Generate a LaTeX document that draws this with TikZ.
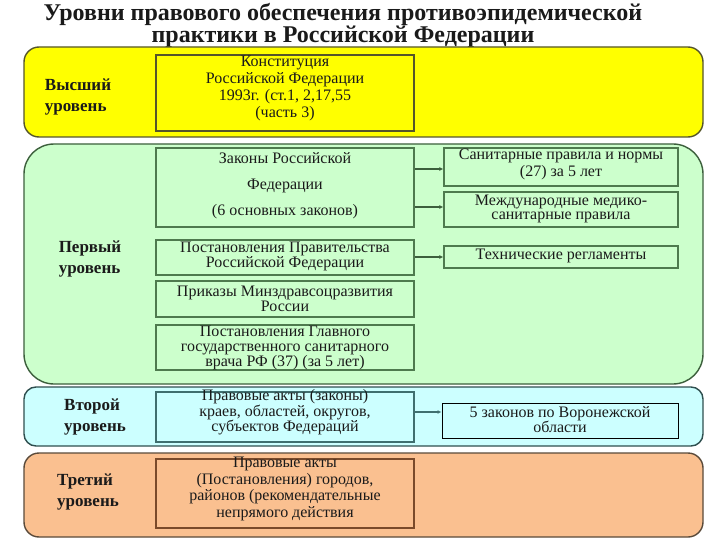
\documentclass[tikz,border=0pt]{standalone}
\usepackage{fontspec}
\setmainfont{Liberation Serif}
\usetikzlibrary{arrows.meta}
\definecolor{yel}{HTML}{FFFF00}
\definecolor{yelb}{HTML}{55552A}
\definecolor{grn}{HTML}{CCFFCC}
\definecolor{grnb}{HTML}{3C5F3C}
\definecolor{boxg}{HTML}{4E7A4E}
\definecolor{cyn}{HTML}{CCFFFF}
\definecolor{cynb}{HTML}{2F4F4F}
\definecolor{boxc}{HTML}{3F6F6F}
\definecolor{org}{HTML}{FAC090}
\definecolor{orgb}{HTML}{5A4A3A}
\definecolor{boxo}{HTML}{7A4A2A}
\definecolor{ink}{HTML}{1A1A1A}
\tikzset{
  band/.style={draw, line width=1.4pt, minimum width=679pt, inner sep=0pt},
  box/.style={draw, line width=1.3pt, inner sep=0pt},
  txt/.style={align=center, text=ink, font=\fontsize{16}{15}\selectfont, inner sep=0pt},
  lvl/.style={align=left, text=ink, font=\bfseries\fontsize{17}{21}\selectfont, inner sep=0pt},
  arr/.style={line width=1.5pt, -{Latex[length=4pt,width=4pt]}},
}
\begin{document}
\begin{tikzpicture}[x=1pt,y=-1pt]
\useasboundingbox (0,0) rectangle (720,540);
\fill[white] (0,0) rectangle (720,540);
% title
\node[font=\bfseries\fontsize{24}{19}\selectfont, align=center, text=ink, inner sep=0pt] (title) at (343,25.5)
  {Уровни правового обеспечения противоэпидемической\\практики в Российской Федерации};
% bands
\node[band, draw=yelb, fill=yel, rounded corners=15pt, minimum height=90pt] (b1) at (363.5,92) {};
\node[band, draw=grnb, fill=grn, rounded corners=30pt, minimum height=240pt] (b2) at (363.5,264) {};
\node[band, draw=cynb, fill=cyn, rounded corners=12pt, minimum height=59pt] (b3) at (363.5,416.5) {};
\node[band, draw=orgb, fill=org, rounded corners=15pt, minimum height=84pt] (b4) at (363.5,495) {};
% level labels
\node[lvl] (l1) at (78,96.5) {Высший\\уровень};
\node[lvl] (l2) at (90,259) {Первый\\уровень};
\node[lvl] (l3) at (95,417) {Второй\\уровень};
\node[lvl] (l4) at (88,492) {Третий\\уровень};
% boxes
\node[box, draw=yelb, minimum width=258pt, minimum height=76pt] (const) at (285,93) {};
\node[txt, font=\fontsize{16}{17}\selectfont] (constt) at (285,88) {Конституция\\Российской Федерации\\1993г. (ст.1, 2,17,55\\(часть 3)};

\node[box, draw=boxg, minimum width=258pt, minimum height=79pt] (laws) at (285,187.5) {};
\node[txt, font=\fontsize{16}{26}\selectfont] (lawst) at (285,186) {Законы Российской\\Федерации\\(6 основных законов)};

\node[box, draw=boxg, minimum width=234pt, minimum height=38pt] (san) at (561,167) {};
\node[txt, font=\fontsize{16}{16.5}\selectfont] (sant) at (561,164.5) {Санитарные правила и нормы\\(27) за 5 лет};

\node[box, draw=boxg, minimum width=234pt, minimum height=35pt] (intl) at (561,209.5) {};
\node[txt, font=\fontsize{16}{14.5}\selectfont] (intlt) at (561,209) {Международные медико-\\санитарные правила};

\node[box, draw=boxg, minimum width=258pt, minimum height=35pt] (post) at (285,257.5) {};
\node[txt, font=\fontsize{16}{15}\selectfont] (postt) at (285,256.5) {Постановления Правительства\\Российской Федерации};

\node[box, draw=boxg, minimum width=234pt, minimum height=22pt] (tech) at (561,257) {};
\node[txt] (techt) at (561,256) {Технические регламенты};

\node[box, draw=boxg, minimum width=258pt, minimum height=36pt] (prik) at (285,299) {};
\node[txt, font=\fontsize{16}{15}\selectfont] (prikt) at (285,299) {Приказы Минздравсоцразвития\\России};

\node[box, draw=boxg, minimum width=258pt, minimum height=45pt] (glav) at (285,347.5) {};
\node[txt] (glavt) at (285,348) {Постановления Главного\\государственного санитарного\\врача РФ (37) (за 5 лет)};

\node[box, draw=boxc, minimum width=258pt, minimum height=50pt] (sec) at (285,417) {};
\node[txt, font=\fontsize{16}{15.5}\selectfont] (sect) at (285,412.5) {Правовые акты (законы)\\краев, областей, округов,\\субъектов Федераций};

\node[box, draw=black, line width=1pt, minimum width=236pt, minimum height=35pt] (five) at (560,420.5) {};
\node[txt] (fivet) at (560,419.5) {5 законов по Воронежской\\области};

\node[box, draw=boxo, minimum width=258pt, minimum height=69pt] (third) at (285,493.5) {};
\node[txt, font=\fontsize{16}{16.5}\selectfont] (thirdt) at (285,489) {Правовые акты\\(Постановления) городов,\\районов (рекомендательные\\непрямого действия};
% arrows
\draw[arr, draw=grnb] (laws.east |- san.west) ++(0,2) coordinate (a1) -- (a1 -| san.west);
\draw[arr, draw=grnb] (laws.east |- intl.west) ++(0,-2.5) coordinate (a2) -- (a2 -| intl.west);
\draw[arr, draw=grnb] (post.east |- tech.west) -- (tech.west);
\draw[arr, draw=boxc] (sec.east |- 0,412) coordinate (a4) -- (a4 -| five.west);
\end{tikzpicture}
\end{document}
